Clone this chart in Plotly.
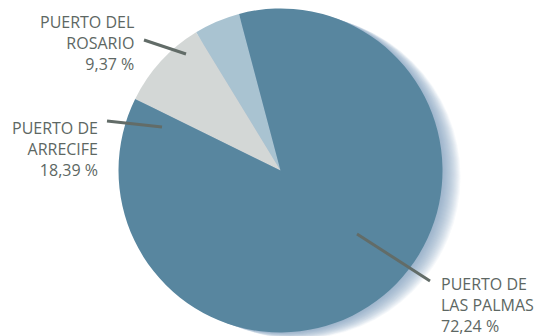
import plotly.graph_objects as go

ports = ["PUERTO DEL ROSARIO", "PUERTO DE ARRECIFE", "PUERTO DE LAS PALMAS"]
slice_values = [4.6, 9.0, 86.4]
pct_labels = ["9,37 %", "18,39 %", "72,24 %"]
label_lines = [["PUERTO DEL", "ROSARIO"], ["PUERTO DE", "ARRECIFE"], ["PUERTO DE", "LAS PALMAS"]]
colors = ["#a9c3d1", "#d3d7d6", "#58869f"]

W, H = 543, 336
cx, cy, r = 280.5, 170.5, 162.0

def px(x):
    return x / W

def py(y):
    return 1 - y / H

fig = go.Figure()
fig.add_trace(go.Pie(
    labels=ports,
    values=slice_values,
    sort=False,
    direction="counterclockwise",
    rotation=-31.4,
    marker=dict(colors=colors, line=dict(width=0)),
    textinfo="none",
    hoverinfo="label+value",
    showlegend=False,
    domain=dict(x=[px(cx - r), px(cx + r)], y=[py(cy + r), py(cy - r)]),
))

shapes = []
# soft shadow to the right of the pie
for i in range(1, 19):
    shapes.append(dict(
        type="circle", xref="paper", yref="paper", layer="below",
        x0=px(cx - r + i * 1.0), x1=px(cx + r + i * 1.0),
        y0=py(cy + r + i * 0.35), y1=py(cy - r + i * 0.35),
        fillcolor="#7f9fb5", opacity=0.06, line=dict(width=0),
    ))

line_col = "#626c68"
leaders = [((144, 40), (186, 54)), ((107, 121), (162, 127)), ((357, 234), (430, 281))]
for (a, b) in leaders:
    shapes.append(dict(type="line", xref="paper", yref="paper",
                       x0=px(a[0]), y0=py(a[1]), x1=px(b[0]), y1=py(b[1]),
                       line=dict(color=line_col, width=3)))

font = dict(family="Open Sans", size=16, color="#5d6763")
ann_pos = [(136, 43, "right"), (100, 148.5, "right"), (439, 304.5, "left")]
annotations = []
for lines, pct, (x, y, al) in zip(label_lines, pct_labels, ann_pos):
    annotations.append(dict(
        text="<br>".join(lines + [pct]), xref="paper", yref="paper",
        x=px(x), y=py(y), xanchor=al, yanchor="middle", align=al,
        showarrow=False, font=font,
    ))

fig.update_layout(
    width=W, height=H, margin=dict(l=0, r=0, t=0, b=0),
    paper_bgcolor="white", plot_bgcolor="white",
    shapes=shapes, annotations=annotations,
)
fig.write_html("out.html", config={"displayModeBar": False},
               post_script="document.body.style.margin='0';")
